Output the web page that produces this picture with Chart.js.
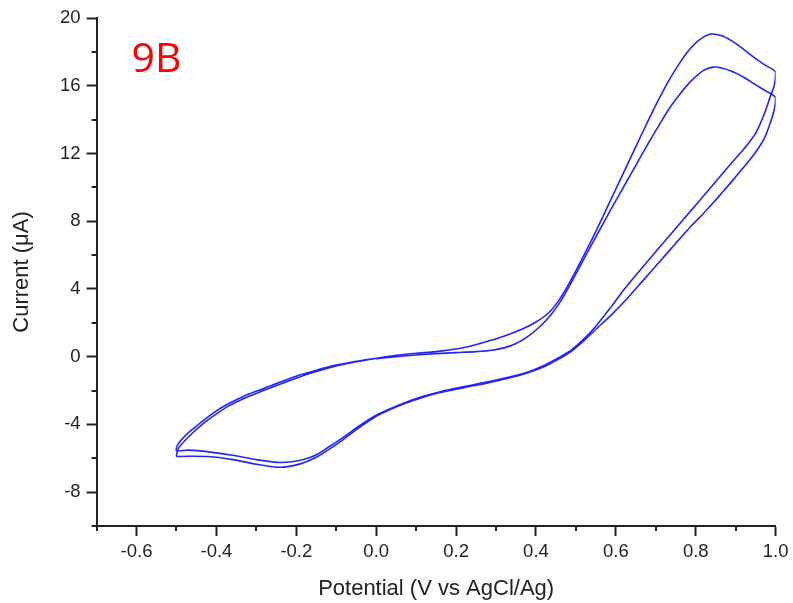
<!DOCTYPE html>
<html>
<head>
<meta charset="utf-8">
<script src="https://cdn.jsdelivr.net/npm/chart.js"></script>
<style>html,body{margin:0;padding:0;background:#fff}canvas{display:block}</style>
</head>
<body>
<canvas id="c" width="793" height="603"></canvas>
<script>
// Cycle 1: 0 V -> 1.0 V (forward) -> -0.5 V (reverse)
const cycle1Potential = [0.0,0.05,0.1,0.15,0.2,0.25,0.29,0.32,0.35,0.38,0.41,0.44,0.465,0.49,0.515,0.54,0.565,0.59,0.62,0.65,0.68,0.71,0.735,0.76,0.785,0.81,0.828,0.845,0.865,0.89,0.92,0.95,0.975,1.0,
  0.998,0.992,0.982,0.971,0.955,0.938,0.915,0.896,0.87,0.846,0.815,0.788,0.75,0.71,0.67,0.63,0.59,0.55,0.52,0.49,0.46,0.42,0.38,0.33,0.28,0.22,0.16,0.11,0.07,0.035,0.0,
  -0.04,-0.08,-0.12,-0.155,-0.19,-0.24,-0.3,-0.36,-0.42,-0.47,-0.5];
const cycle1Current = [-0.12,0.0,0.1,0.18,0.24,0.3,0.38,0.52,0.78,1.2,1.78,2.55,3.4,4.45,5.55,6.65,7.72,8.8,10.05,11.3,12.55,13.75,14.7,15.5,16.2,16.75,17.0,17.1,17.05,16.85,16.5,16.05,15.7,15.3,
  14.75,14.2,13.5,12.86,12.25,11.7,11.05,10.5,9.8,9.15,8.35,7.7,6.7,5.62,4.55,3.48,2.5,1.62,0.95,0.35,-0.1,-0.6,-0.95,-1.28,-1.55,-1.83,-2.12,-2.45,-2.78,-3.12,-3.52,
  -4.15,-4.85,-5.5,-6.0,-6.33,-6.53,-6.35,-6.08,-5.9,-5.88,-5.9];

// Cycle 2: -0.5 V -> 1.0 V -> -0.5 V -> 0 V
const cycle2Potential = [-0.5,-0.498,-0.492,-0.467,-0.434,-0.4,-0.37,-0.33,-0.29,-0.25,-0.2,-0.15,-0.1,-0.05,0.0,0.05,0.1,0.15,0.2,0.24,0.281,0.33,0.37,0.4,0.43,0.455,0.48,0.505,0.53,0.555,0.58,0.61,0.64,0.67,0.7,0.73,0.76,0.785,0.81,0.838,0.865,0.89,0.92,0.95,0.975,1.0,
  0.997,0.9875,0.971,0.95,0.925,0.9,0.863,0.813,0.763,0.713,0.663,0.62,0.59,0.55,0.52,0.49,0.46,0.42,0.38,0.33,0.28,0.22,0.16,0.11,0.07,0.035,0.0,-0.04,-0.08,-0.12,-0.155,-0.19,-0.24,-0.3,-0.36,-0.42,-0.47,-0.5,
  -0.497,-0.488,-0.475,-0.455,-0.43,-0.4,-0.37,-0.33,-0.29,-0.25,-0.2,-0.15,-0.1,-0.05,0.0];
const cycle2Current = [-5.9,-5.55,-5.3,-4.67,-3.97,-3.38,-2.92,-2.45,-2.07,-1.7,-1.27,-0.88,-0.55,-0.3,-0.1,0.08,0.2,0.3,0.45,0.65,0.92,1.3,1.68,2.05,2.55,3.25,4.2,5.3,6.45,7.65,8.9,10.4,11.9,13.4,14.85,16.2,17.35,18.15,18.72,19.05,18.95,18.65,18.15,17.6,17.2,16.8,
  16.05,15.42,14.3,13.2,12.4,11.72,10.7,9.31,7.94,6.56,5.18,3.95,3.0,1.8,1.05,0.42,-0.02,-0.52,-0.9,-1.22,-1.49,-1.77,-2.07,-2.4,-2.73,-3.07,-3.46,-4.05,-4.72,-5.35,-5.85,-6.12,-6.25,-6.08,-5.82,-5.62,-5.52,-5.55,
  -5.2,-4.92,-4.6,-4.2,-3.72,-3.2,-2.78,-2.32,-1.95,-1.58,-1.15,-0.8,-0.5,-0.27,-0.1];

const xMajorTicks = [-0.6,-0.4,-0.2,0.0,0.2,0.4,0.6,0.8,1.0];
const xMinorTicks = [-0.7,-0.5,-0.3,-0.1,0.1,0.3,0.5,0.7,0.9];
const yMajorTicks = [-8,-4,0,4,8,12,16,20];
const yMinorTicks = [-10,-6,-2,2,6,10,14,18];
const xTitle = 'Potential (V vs AgCl/Ag)';
const yTitle = 'Current (μA)';
const panelLabel = '9B';

const FONT = '"Liberation Sans", Arial, sans-serif';
const AXIS = '#222';
const LINE = 'rgb(35,35,250)';

function toPoints(vs, is) { return vs.map((v, k) => ({ x: v, y: is[k] })); }

const extras = {
  id: 'extras',
  afterDraw(chart) {
    const { ctx, scales: { x, y }, chartArea } = chart;
    ctx.save();
    ctx.strokeStyle = AXIS;
    ctx.lineWidth = 2;
    ctx.beginPath();
    xMinorTicks.forEach(v => {
      const p = Math.round(x.getPixelForValue(v));
      ctx.moveTo(p, x.top); ctx.lineTo(p, x.top + 5);
    });
    yMinorTicks.forEach(v => {
      const p = Math.round(y.getPixelForValue(v));
      ctx.moveTo(y.right - 5, p); ctx.lineTo(y.right, p);
    });
    ctx.stroke();
    ctx.fillStyle = '#ff0000';
    ctx.font = '41px "Open Sans", "Noto Sans", sans-serif';
    ctx.textBaseline = 'alphabetic';
    ctx.textAlign = 'left';
    ctx.fillText(panelLabel, chartArea.left + 35, chartArea.top + 54);
    ctx.restore();
  }
};

new Chart(document.getElementById('c'), {
  type: 'scatter',
  data: {
    datasets: [
      { data: toPoints(cycle1Potential, cycle1Current), showLine: true, borderColor: LINE, borderWidth: 1.6, pointRadius: 0, tension: 0.3, fill: false },
      { data: toPoints(cycle2Potential, cycle2Current), showLine: true, borderColor: LINE, borderWidth: 1.6, pointRadius: 0, tension: 0.3, fill: false }
    ]
  },
  options: {
    responsive: false,
    animation: false,
    devicePixelRatio: 1,
    layout: { padding: { left: 0, right: 14.7, top: 18, bottom: 0 } },
    plugins: { legend: { display: false }, tooltip: { enabled: false } },
    scales: {
      x: {
        type: 'linear', min: -0.7, max: 1.0, position: 'bottom',
        afterBuildTicks: s => { s.ticks = xMajorTicks.map(v => ({ value: v })); },
        afterFit: s => { s.height = 77; },
        grid: { drawOnChartArea: false, drawTicks: true, tickLength: 10, tickWidth: 2, tickColor: AXIS },
        border: { display: true, color: AXIS, width: 2 },
        ticks: { padding: 4.5, color: AXIS, autoSkip: false, maxRotation: 0, font: { family: FONT, size: 18.5 }, callback: v => Number(v).toFixed(1) },
        title: { display: true, text: xTitle, color: AXIS, font: { family: FONT, size: 22 }, padding: { top: 0, bottom: 1 } }
      },
      y: {
        type: 'linear', min: -10, max: 20, position: 'left',
        afterBuildTicks: s => { s.ticks = yMajorTicks.map(v => ({ value: v })); },
        afterFit: s => { s.width = 96.6; },
        grid: { drawOnChartArea: false, drawTicks: true, tickLength: 10, tickWidth: 2, tickColor: AXIS },
        border: { display: true, color: AXIS, width: 2 },
        ticks: { padding: 6, color: AXIS, autoSkip: false, font: { family: FONT, size: 18.5 }, callback: v => String(v) },
        title: { display: true, text: yTitle, color: AXIS, font: { family: FONT, size: 22 }, padding: { top: 9, bottom: 0 } }
      }
    }
  },
  plugins: [extras]
});
</script>
</body>
</html>
